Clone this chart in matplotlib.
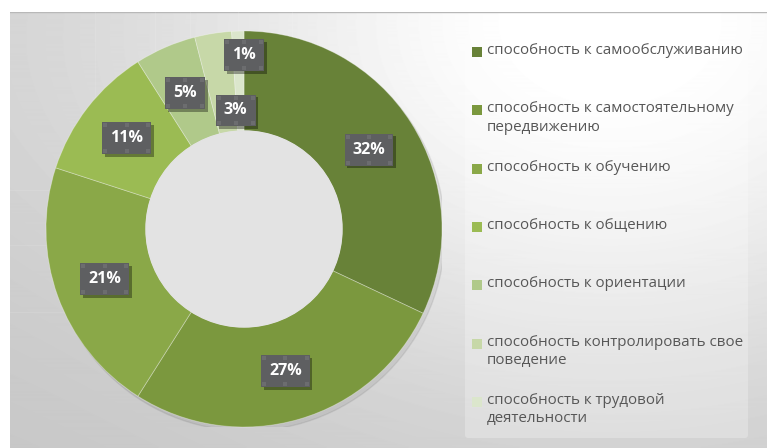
import numpy as np
import matplotlib.pyplot as plt
from matplotlib import patheffects
from matplotlib.patches import Rectangle, FancyBboxPatch

plt.rcParams['font.family'] = ['Open Sans', 'DejaVu Sans']

labels = ["способность к самообслуживанию",
          "способность к самостоятельному\nпередвижению",
          "способность к обучению",
          "способность к общению",
          "способность к ориентации",
          "способность контролировать свое\nповедение",
          "способность к трудовой\nдеятельности"]
shares = [32, 27, 21, 11, 5, 3, 1]
colors = ["#688238", "#7b983e", "#8aa848", "#9bbb53", "#b0c98a", "#c7d8a8", "#dbe6cc"]
# hand-moved labels for the two thin slices: (radius, angle in degrees)
moved = {5: (0.60, 94), 6: (0.88, 90)}

W, H = 767, 448
fig = plt.figure(figsize=(W / 100, H / 100), dpi=100)
fig.patch.set_facecolor("white")

# gray panel with soft highlight near the top right
bg = fig.add_axes([10 / W, 0, 1 - 10 / W, (H - 12) / H])
yy, xx = np.mgrid[0:H - 12, 0:W - 10]
glow = np.exp(-(((xx - 600) / 300.0) ** 2 + ((yy - 0) / 260.0) ** 2) / 2)
shade = 0.77 + 0.04 * np.exp(-((yy - 40) / 300.0) ** 2) + 0.2 * glow
bg.imshow(np.clip(shade, 0, 1), cmap="gray", vmin=0, vmax=1, aspect="auto",
          extent=[0, W - 10, H - 12, 0])
bg.plot([0, W - 10], [0.5, 0.5], color="#b8b8b8", lw=1)
for x0 in [85, 145, 180, 228, 282]:
    bg.plot([x0, x0], [0, 330], color="white", lw=0.8, alpha=0.1)
for y0 in [178, 233, 300]:
    bg.plot([0, 300], [y0, y0], color="white", lw=0.8, alpha=0.1)
bg.add_patch(FancyBboxPatch((455, 22), 283, 404, boxstyle="round,pad=0,rounding_size=3",
                            fc="white", ec="none", alpha=0.25))
bg.set_xlim(0, W - 10)
bg.set_ylim(H - 12, 0)
bg.axis("off")

# donut
cx, cy, R = 244, 229, 198
ax = fig.add_axes([(cx - R) / W, (H - cy - R) / H, 2 * R / W, 2 * R / H])
shadow_ring = plt.Circle((0.015, -0.02), 1.0, color="black", alpha=0.07, zorder=0)
ax.add_patch(shadow_ring)
wedges, _ = ax.pie(shares, colors=colors, startangle=90, counterclock=False, radius=1.0,
                   wedgeprops=dict(width=0.505, edgecolor=(1, 1, 1, 0.35), linewidth=0.6))
hole = plt.Circle((0, 0), 0.495, color="#e3e3e3", zorder=3)
ax.add_patch(hole)
ax.set_xlim(-1, 1)
ax.set_ylim(-1, 1)
ax.set_aspect("equal")
ax.axis("off")

texts = []
cum = 0
for i, v in enumerate(shares):
    mid = 90 - (cum + v / 2) / sum(shares) * 360
    cum += v
    r, ang = moved.get(i, (0.748, mid))
    t = ax.text(r * np.cos(np.radians(ang)), r * np.sin(np.radians(ang)), f"{v}%",
                ha="center", va="center", color="white", fontsize=11.5, fontweight="bold",
                zorder=6,
                bbox=dict(boxstyle="square,pad=0.5", fc="#5e5f61", ec="none"))
    t.get_bbox_patch().set_path_effects([
        patheffects.SimplePatchShadow(offset=(2, -2), alpha=0.35, shadow_rgbFace="black"),
        patheffects.Normal()])
    texts.append(t)

# small selection handles on the label boxes
fig.canvas.draw()
ren = fig.canvas.get_renderer()
for t in texts:
    bb = t.get_bbox_patch().get_window_extent(ren)
    for hx in [bb.x0 + 3, (bb.x0 + bb.x1) / 2, bb.x1 - 3]:
        for hy in [bb.y0 + 3, bb.y1 - 3]:
            fig.add_artist(Rectangle(((hx - 2) / W, (hy - 2) / H), 4 / W, 4 / H,
                                     transform=fig.transFigure, fc="#6c6d6f", ec="none",
                                     zorder=7))

# legend
for i, (lab, c) in enumerate(zip(labels, colors)):
    ytop = 52 + i * 58.3
    fig.add_artist(Rectangle((472 / W, (H - ytop - 5) / H), 10 / W, 10 / H,
                             transform=fig.transFigure, fc=c, ec="none"))
    fig.text(487 / W, (H - ytop + 9) / H, lab, ha="left", va="top", fontsize=10.9,
             color="#575757", linespacing=1.32)

fig.savefig("out.png", dpi=100)
